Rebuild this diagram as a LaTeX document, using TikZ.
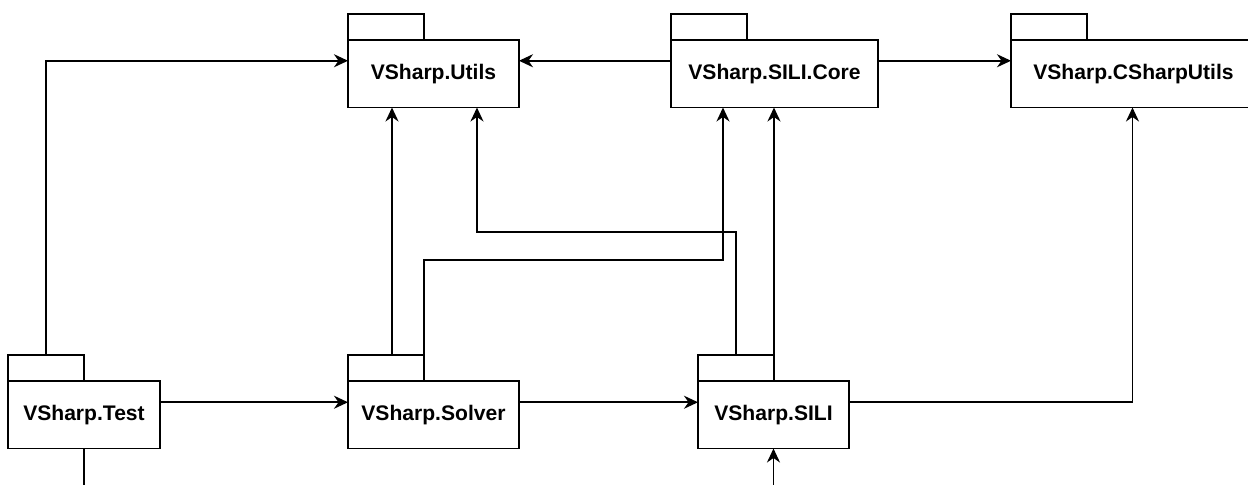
\documentclass[tikz,border=0pt]{standalone}
\usepackage{fontspec}
\setmainfont{Liberation Sans}
\usetikzlibrary{arrows.meta}
\tikzset{
  pkg/.style={rectangle,draw=black,line width=1pt,anchor=north west,inner sep=0pt,outer sep=0pt,minimum height=1.35cm,font=\bfseries\fontsize{12}{14}\selectfont},
  tab/.style={rectangle,draw=black,line width=1pt,anchor=south west,inner sep=0pt,outer sep=0pt,minimum width=1.52cm,minimum height=0.52cm},
  dep/.style={-{Stealth[length=2.8mm,width=2.6mm,inset=0.9mm]},line width=1pt},
  wire/.style={line width=1pt}
}
\begin{document}
\begin{tikzpicture}[x=0.02cm,y=-0.02cm]
  \useasboundingbox (0,0) rectangle (1248,484);
  \clip (0,0) rectangle (1248,484);
  % packages, top row
  \node[pkg,minimum width=3.42cm] (utils) at (348,40) {VSharp.Utils};
  \node[pkg,minimum width=4.14cm] (core) at (671,40) {VSharp.SILI.Core};
  \node[pkg,minimum width=4.9cm] (csutils) at (1011,40) {VSharp.CSharpUtils};
  % packages, bottom row
  \node[pkg,minimum width=3.04cm] (test) at (8,381) {VSharp.Test};
  \node[pkg,minimum width=3.42cm] (solver) at (348,381) {VSharp.Solver};
  \node[pkg,minimum width=3.02cm] (sili) at (698,381) {VSharp.SILI};
  % tabs
  \foreach \p in {utils,core,csutils,test,solver,sili}
    \node[tab] (\p Tab) at (\p.north west) {};
  \coordinate (testExit) at (84,500);
  \coordinate (siliEntry) at (774,500);
  % dependencies
  \draw[dep] (testTab.north) |- ([yshift=0.26cm]utils.west);
  \draw[dep] ([yshift=0.26cm]core.west) -- ([yshift=0.26cm]utils.east);
  \draw[dep] ([yshift=0.26cm]core.east) -- ([yshift=0.26cm]csutils.west);
  \draw[dep] ([xshift=0.12cm]solverTab.north) -- ([xshift=0.12cm]solverTab.north |- utils.south);
  \draw[dep] (solverTab.north east) -- ++(0,-95) -| ([xshift=-1.03cm]core.south);
  \draw[dep] (siliTab.north) -- ++(0,-123) -| ([xshift=0.87cm]utils.south);
  \draw[dep] (siliTab.north east) -- (siliTab.north east |- core.south);
  \draw[dep] ([yshift=0.25cm]test.east) -- ([yshift=0.25cm]solver.west);
  \draw[dep] ([yshift=0.25cm]solver.east) -- ([yshift=0.25cm]sili.west);
  \draw[dep] ([yshift=0.25cm]sili.east) -| ([xshift=-0.02cm]csutils.south);
  \draw[wire] (test.south) -- (test.south |- testExit);
  \draw[dep] (siliEntry -| sili.south) -- (sili.south);
\end{tikzpicture}
\end{document}
